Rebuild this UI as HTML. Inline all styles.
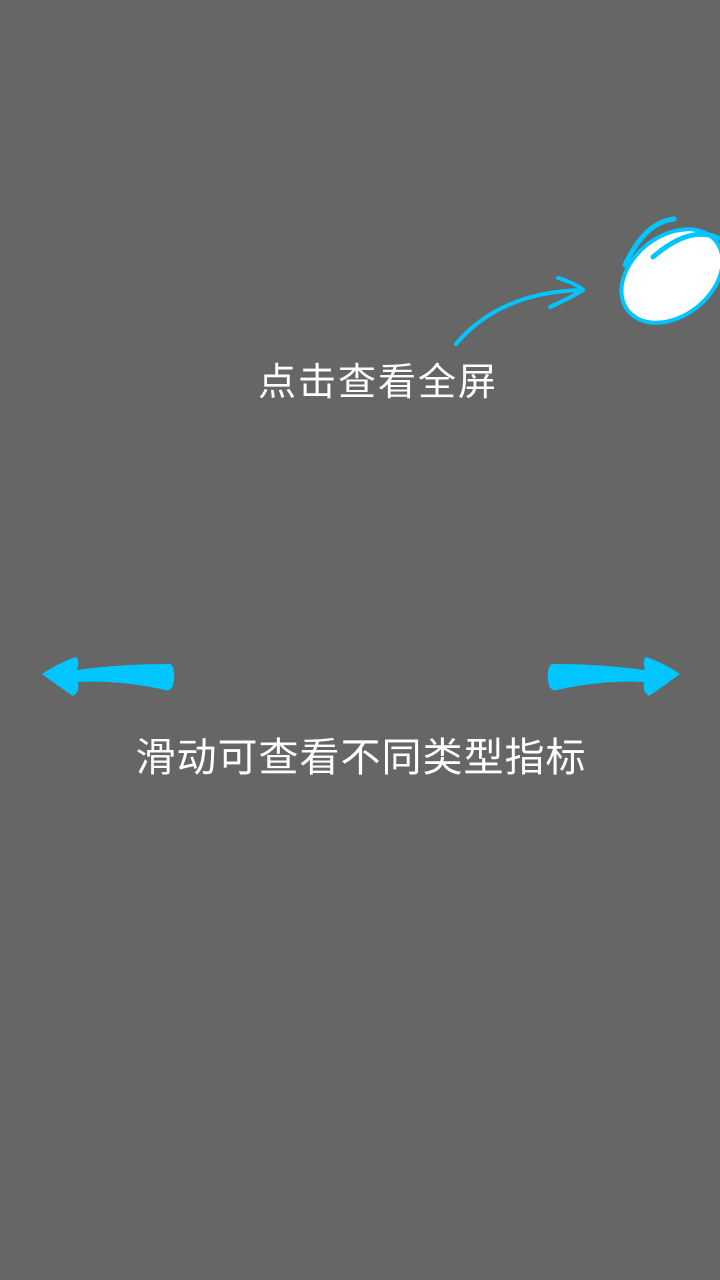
<!DOCTYPE html>
<html><head><meta charset="utf-8"><style>
html,body{margin:0;padding:0;background:#666;width:720px;height:1280px;overflow:hidden;position:relative}
.t{position:absolute;color:#fff;font-family:"Liberation Sans","Noto Sans CJK SC",sans-serif;white-space:nowrap;text-align:center}
</style></head><body>
<svg width="720" height="1280" style="position:absolute;left:0;top:0">
<ellipse cx="672" cy="276" rx="56" ry="40" transform="rotate(-38 672 276)" fill="#fff" stroke="#00c5ff" stroke-width="4"/>
<path d="M674 219 Q645 222 625 265" fill="none" stroke="#00c5ff" stroke-width="5" stroke-linecap="round"/>
<path d="M653 257 Q690 225 718 238" fill="none" stroke="#00c5ff" stroke-width="5" stroke-linecap="round"/>
<path d="M456 344 Q500 292 582 290" fill="none" stroke="#00c5ff" stroke-width="4" stroke-linecap="round"/>
<path d="M558 278 Q575 283 583 290 Q570 298 550 307" fill="none" stroke="#00c5ff" stroke-width="4" stroke-linecap="round" stroke-linejoin="round"/>
<path id="la" d="M42 674 Q60 662 76 657 Q80 660 77 670 Q120 664 170 664 Q175 666 174 680 Q173 692 165 690 Q120 680 78 682 Q80 692 73 696 Q58 686 42 674 Z" fill="#00c5ff"/>
<use href="#la" transform="translate(722 0) scale(-1 1)"/>
</svg>
<div class="t" style="left:255px;top:360px;width:246px;font-size:38px;line-height:46px;letter-spacing:2px">点击查看全屏</div>
<div class="t" style="left:130px;top:734px;width:462px;font-size:40px;line-height:48px;letter-spacing:1px">滑动可查看不同类型指标</div>
</body></html>
